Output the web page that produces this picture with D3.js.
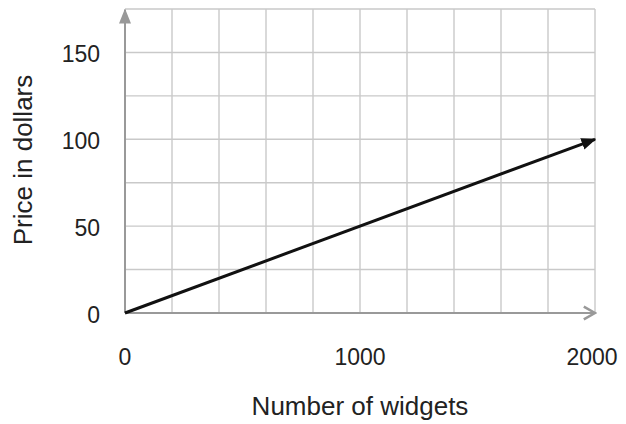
<!DOCTYPE html>
<html>
<head>
<meta charset="utf-8">
<script src="https://cdn.jsdelivr.net/npm/d3@7.9.0/dist/d3.min.js"></script>
<style>
  body { margin: 0; background: #fff; }
  text { font-family: "Liberation Sans", Arial, sans-serif; fill: #222; }
</style>
</head>
<body>
<svg id="chart" width="626" height="424"></svg>
<script>
// data
const widgets = [0, 2000];
const price = [0, 100];
const xTicks = [0, 1000, 2000];
const yTicks = [0, 50, 100, 150];
const xGrid = d3.range(0, 2001, 200);
const yGrid = d3.range(0, 176, 25);

const svg = d3.select("#chart");
const margin = { top: 9, right: 31, bottom: 111, left: 125 };
const width = +svg.attr("width") - margin.left - margin.right;
const height = +svg.attr("height") - margin.top - margin.bottom;
const g = svg.append("g").attr("transform", `translate(${margin.left},${margin.top})`);

const x = d3.scaleLinear().domain([0, 2000]).range([0, width]);
const y = d3.scaleLinear().domain([0, 175]).range([height, 0]);

// grid
g.selectAll(".vgrid").data(xGrid).join("line")
  .attr("x1", d => x(d)).attr("x2", d => x(d))
  .attr("y1", 0).attr("y2", height)
  .attr("stroke", "#c9c9c9").attr("stroke-width", 1.4);
g.selectAll(".hgrid").data(yGrid).join("line")
  .attr("x1", 0).attr("x2", width)
  .attr("y1", d => y(d)).attr("y2", d => y(d))
  .attr("stroke", "#c9c9c9").attr("stroke-width", 1.4);

// arrow markers
const defs = svg.append("defs");
defs.append("marker").attr("id", "blackHead")
  .attr("viewBox", "0 0 10 10").attr("refX", 9).attr("refY", 5)
  .attr("markerWidth", 5).attr("markerHeight", 5).attr("orient", "auto")
  .append("path").attr("d", "M0,1 L10,5 L0,9 Z").attr("fill", "#111");
defs.append("marker").attr("id", "greyHead")
  .attr("viewBox", "0 0 10 10").attr("refX", 9).attr("refY", 5)
  .attr("markerWidth", 7.5).attr("markerHeight", 7.5).attr("orient", "auto")
  .append("path").attr("d", "M0,1 L10,5 L0,9 Z").attr("fill", "#999");
defs.append("marker").attr("id", "greyOpen")
  .attr("viewBox", "0 0 10 10").attr("refX", 9).attr("refY", 5)
  .attr("markerWidth", 8).attr("markerHeight", 8).attr("orient", "auto")
  .append("path").attr("d", "M2,1 L9,5 L2,9").attr("fill", "none")
  .attr("stroke", "#999").attr("stroke-width", 1.6);

// axes
g.append("line")
  .attr("x1", x(0)).attr("x2", x(0)).attr("y1", height).attr("y2", 1)
  .attr("stroke", "#999").attr("stroke-width", 2)
  .attr("marker-end", "url(#greyHead)");
g.append("line")
  .attr("x1", x(0)).attr("x2", width).attr("y1", height).attr("y2", height)
  .attr("stroke", "#999").attr("stroke-width", 2)
  .attr("marker-end", "url(#greyOpen)");

// tick labels
g.selectAll(".ytick").data(yTicks).join("text")
  .attr("x", -25).attr("y", d => y(d) + 10)
  .attr("text-anchor", "end").attr("font-size", 23)
  .text(d => d);
g.selectAll(".xtick").data(xTicks).join("text")
  .attr("x", d => x(d) - (d === 2000 ? 3 : 0)).attr("y", height + 52)
  .attr("text-anchor", "middle").attr("font-size", 23)
  .text(d => d);

// line
const line = d3.line().x((d, i) => x(widgets[i])).y(d => y(d));
g.append("path")
  .datum(price)
  .attr("fill", "none")
  .attr("stroke", "#111")
  .attr("stroke-width", 3)
  .attr("d", line)
  .attr("marker-end", "url(#blackHead)");

// axis titles
svg.append("text")
  .attr("text-anchor", "middle")
  .attr("x", 360)
  .attr("y", 415)
  .attr("font-size", 26)
  .text("Number of widgets");
svg.append("text")
  .attr("text-anchor", "middle")
  .attr("transform", "rotate(-90)")
  .attr("x", -160)
  .attr("y", 32)
  .attr("font-size", 26)
  .text("Price in dollars");
</script>
</body>
</html>
